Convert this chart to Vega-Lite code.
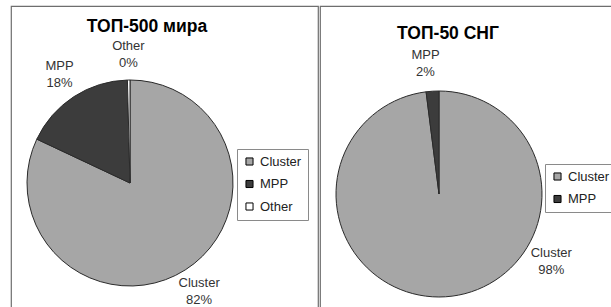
{
  "$schema": "https://vega.github.io/schema/vega-lite/v6.json",
  "background": "white",
  "padding": {"left": 10, "top": 5, "right": 0, "bottom": 0},
  "spacing": 0,
  "config": {
    "font": "Liberation Sans",
    "legend": {
      "orient": "none",
      "title": null,
      "strokeColor": "#8a8a8a",
      "fillColor": "white",
      "padding": 6,
      "rowPadding": 8.5,
      "symbolType": "square",
      "symbolSize": 50,
      "symbolStrokeColor": "#000",
      "symbolStrokeWidth": 1,
      "labelFont": "Liberation Sans",
      "labelFontSize": 13,
      "labelColor": "#222",
      "labelOffset": 4
    },
    "title": {
      "font": "Liberation Sans",
      "fontSize": 17.5,
      "fontWeight": "bold",
      "color": "#000",
      "anchor": "middle",
      "baseline": "alphabetic"
    }
  },
  "resolve": {"scale": {"color": "independent", "theta": "independent"}, "legend": {"color": "independent"}},
  "hconcat": [
    {
      "width": 307,
      "height": 305,
      "view": {"stroke": "#6e6e6e", "strokeWidth": 1.2},
      "title": {"text": "ТОП-500 мира", "dx": -17.5, "offset": -29},
      "data": {"values": [
        {"type": "Cluster", "value": 410, "label": "Cluster\n82%"},
        {"type": "MPP", "value": 88, "label": "MPP\n18%"},
        {"type": "Other", "value": 2, "label": "Other\n0%"}
      ]},
      "layer": [
        {
          "mark": {"type": "arc", "x": 119, "y": 177, "outerRadius": 103, "stroke": "#2a2a2a", "strokeWidth": 1},
          "encoding": {
            "theta": {"field": "value", "type": "quantitative", "stack": true},
            "color": {
              "field": "type", "type": "nominal",
              "scale": {"domain": ["Cluster", "MPP", "Other"], "range": ["#a6a6a6", "#3c3c3c", "#ffffff"]},
              "legend": {"legendX": 226, "legendY": 143}
            }
          }
        },
        {
          "mark": {"type": "text", "x": 119, "y": 177, "radius": 129, "dy": -8.5, "fontSize": 13, "fill": "#333", "lineBreak": "\n", "align": "center", "baseline": "middle", "lineHeight": 17},
          "encoding": {
            "theta": {"field": "value", "type": "quantitative", "stack": true},
            "detail": {"field": "type", "type": "nominal"},
            "text": {"field": "label", "type": "nominal"}
          }
        }
      ]
    },
    {
      "width": 300,
      "height": 305,
      "view": {"stroke": "#6e6e6e", "strokeWidth": 1.2},
      "title": {"text": "ТОП-50 СНГ", "dx": -22, "offset": -36},
      "data": {"values": [
        {"type": "Cluster", "value": 49, "label": "Cluster\n98%"},
        {"type": "MPP", "value": 1, "label": "MPP\n2%"}
      ]},
      "resolve": {"scale": {"theta": "independent"}},
      "layer": [
        {
          "mark": {"type": "arc", "x": 119, "y": 188, "outerRadius": 103, "stroke": "#2a2a2a", "strokeWidth": 1},
          "encoding": {
            "theta": {"field": "value", "type": "quantitative", "stack": true},
            "color": {
              "field": "type", "type": "nominal",
              "scale": {"domain": ["Cluster", "MPP"], "range": ["#a6a6a6", "#3c3c3c"]},
              "legend": {"legendX": 225, "legendY": 158}
            }
          }
        },
        {
          "mark": {"type": "text", "x": 119, "y": 188, "radius": 131, "dy": -8.5, "fontSize": 13, "fill": "#333", "lineBreak": "\n", "align": "center", "baseline": "middle", "lineHeight": 17},
          "encoding": {
            "theta": {"field": "value", "type": "quantitative", "stack": true, "scale": {"domain": [0, 50], "range": [-1.873, 6.261]}},
            "detail": {"field": "type", "type": "nominal"},
            "text": {"field": "label", "type": "nominal"}
          }
        }
      ]
    }
  ]
}
